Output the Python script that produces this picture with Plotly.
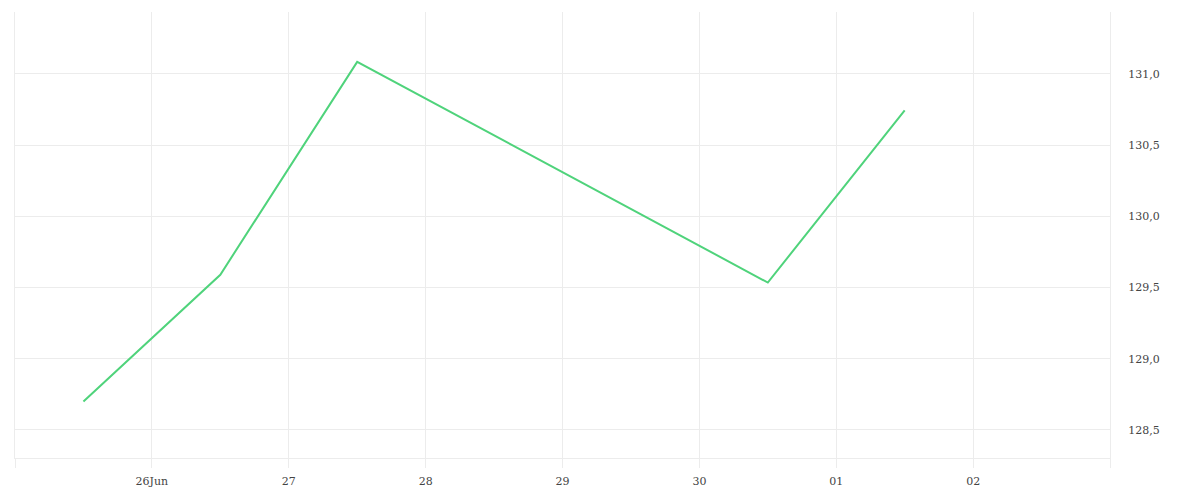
import plotly.graph_objects as go

# daily closes, plotted at midday
dates = ["2020-06-25 12:00", "2020-06-26 12:00", "2020-06-27 12:00",
         "2020-06-30 12:00", "2020-07-01 12:00"]
prices = [128.70, 129.59, 131.085, 129.535, 130.745]

tick_dates = ["2020-06-25", "2020-06-26", "2020-06-27", "2020-06-28", "2020-06-29",
              "2020-06-30", "2020-07-01", "2020-07-02", "2020-07-03"]
tick_text = ["", "26Jun", "27", "28", "29", "30", "01", "02", ""]

grid = "#ececec"
font = dict(family="DejaVu Serif", size=11, color="#444")

fig = go.Figure()
fig.add_trace(go.Scatter(
    x=dates, y=prices, mode="lines",
    line=dict(color="#4fd37b", width=2),
    hoverinfo="x+y",
))

fig.update_layout(
    width=1200, height=500,
    margin=dict(l=7, r=98, t=4, b=50),
    paper_bgcolor="white", plot_bgcolor="white",
    separators=",.",
    showlegend=False,
    font=font,
)
fig.update_xaxes(
    type="date",
    range=["2020-06-25", "2020-07-03"],
    tickvals=tick_dates, ticktext=tick_text,
    showgrid=True, gridcolor=grid, gridwidth=1,
    ticks="outside", ticklen=9, tickcolor=grid,
    ticklabelstandoff=4,
    showline=True, linecolor=grid,
    zeroline=False,
    tickfont=font,
)
fig.update_yaxes(
    side="right",
    range=[128.303, 131.435],
    tickvals=[128.5, 129.0, 129.5, 130.0, 130.5, 131.0],
    tickformat=".1f",
    showgrid=True, gridcolor=grid, gridwidth=1,
    showline=True, mirror=True, linecolor=grid,
    ticks="", ticklabelstandoff=15,
    zeroline=False,
    tickfont=font,
)

fig.write_html("out.html")
